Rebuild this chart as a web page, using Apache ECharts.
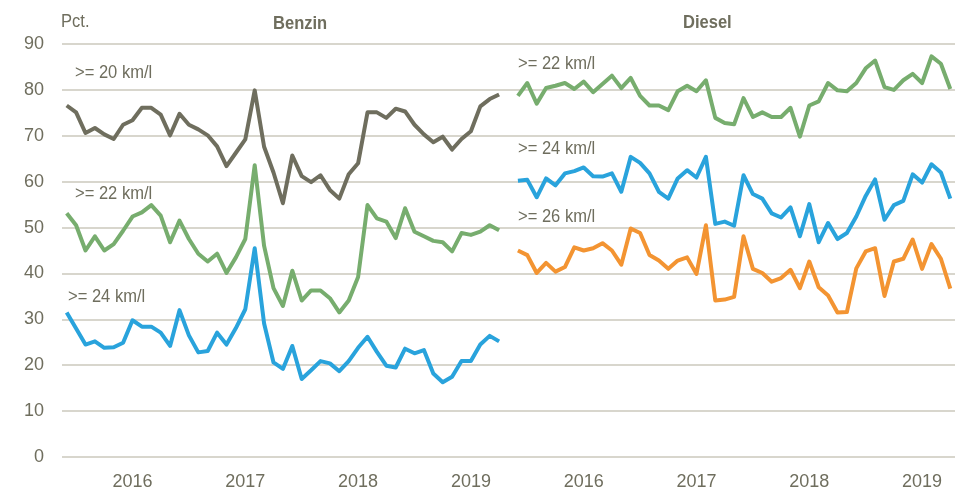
<!DOCTYPE html>
<html>
<head>
<meta charset="utf-8">
<script src="https://cdn.jsdelivr.net/npm/echarts@6/dist/echarts.min.js"></script>
<style>
  html, body { margin: 0; padding: 0; background: #fff; }
  #main { width: 955px; height: 491px; }
</style>
</head>
<body>
<div id="main"></div>
<script>
// månedlige tal, jun 2015 - apr 2019
var months = []
for (var y = 2015; y <= 2019; y++) {
  for (var m = 1; m <= 12; m++) {
    if ((y === 2015 && m < 6) || (y === 2019 && m > 4)) continue
    months.push(y + '-' + (m < 10 ? '0' + m : m))
  }
}

var yTicks = [0, 10, 20, 30, 40, 50, 60, 70, 80, 90]

// Benzin
var benzin20 = [76.6, 75.1, 70.6, 71.7, 70.3, 69.3, 72.4, 73.4, 76.1, 76.1,
  74.6, 70.1, 74.8, 72.4, 71.4, 70.1, 67.7, 63.4, 66.3, 69.2,
  79.9, 67.6, 62.0, 55.3, 65.7, 61.2, 59.9, 61.4, 58.2, 56.3,
  61.6, 64.0, 75.1, 75.1, 73.9, 75.9, 75.3, 72.4, 70.3, 68.6,
  69.8, 67.0, 69.3, 71.0, 76.4, 78.0, 79.0]
var benzin22 = [53.1, 50.5, 45.0, 48.1, 45.0, 46.4, 49.3, 52.4, 53.3, 54.9,
  52.6, 46.8, 51.5, 47.5, 44.3, 42.6, 44.3, 40.1, 43.5, 47.5,
  63.6, 46.0, 36.8, 32.9, 40.6, 34.1, 36.3, 36.3, 34.6, 31.5,
  34.1, 39.2, 54.9, 52.0, 51.3, 47.7, 54.2, 49.1, 48.1, 47.1,
  46.8, 44.8, 48.8, 48.4, 49.1, 50.5, 49.4]
var benzin24 = [31.5, 28.0, 24.5, 25.2, 23.8, 23.9, 24.9, 29.8, 28.4, 28.4,
  27.1, 24.2, 32.0, 26.5, 22.8, 23.1, 27.1, 24.5, 28.1, 32.2,
  45.5, 29.1, 20.6, 19.2, 24.2, 17.0, 18.9, 20.9, 20.4, 18.7,
  20.9, 23.8, 26.2, 22.9, 19.9, 19.5, 23.6, 22.6, 23.3, 18.2,
  16.3, 17.5, 20.9, 20.9, 24.5, 26.4, 25.2]

// Diesel
var diesel22 = [78.7, 81.5, 77.0, 80.4, 80.9, 81.5, 80.2, 81.8, 79.5, 81.3,
  83.1, 80.4, 82.6, 78.7, 76.6, 76.6, 75.6, 79.7, 80.9, 79.7,
  82.1, 73.9, 72.8, 72.5, 78.2, 74.1, 75.1, 74.1, 74.1, 76.1,
  69.8, 76.6, 77.5, 81.5, 79.9, 79.7, 81.5, 84.7, 86.4, 80.6,
  80.0, 82.1, 83.5, 81.5, 87.3, 85.7, 80.2]
var diesel24 = [60.2, 60.4, 56.6, 60.7, 59.2, 61.8, 62.3, 63.1, 61.2, 61.1,
  61.8, 57.8, 65.4, 64.1, 61.8, 57.8, 56.3, 60.7, 62.5, 60.9,
  65.4, 50.8, 51.3, 50.4, 61.4, 57.3, 56.3, 53.1, 52.2, 54.4,
  48.1, 55.1, 46.8, 51.0, 47.5, 48.8, 52.4, 56.9, 60.5, 51.7,
  54.9, 55.8, 61.6, 59.8, 63.8, 62.0, 56.3]
var diesel26 = [45.0, 44.0, 40.1, 42.3, 40.4, 41.4, 45.7, 45.0, 45.5, 46.6,
  45.0, 41.9, 49.8, 48.8, 44.0, 42.8, 41.0, 42.8, 43.5, 39.9,
  50.5, 34.1, 34.3, 34.9, 48.1, 41.0, 40.1, 38.2, 39.0, 40.8,
  36.8, 42.6, 37.0, 35.2, 31.5, 31.6, 41.1, 44.8, 45.5, 35.1,
  42.6, 43.2, 47.4, 41.0, 46.4, 43.2, 36.7]

// begge paneler deler én kategoriakse med et tomt felt imellem
var cats = months.concat(['']).concat(months)
var pad = months.map(function () { return null })
function left (arr) { return arr.concat([null]).concat(pad) }
function right (arr) { return pad.concat([null]).concat(arr) }

var txtColor = '#6f6e5e'
var font = "'Liberation Sans', Arial, sans-serif"

function mkLine (name, data, color) {
  return {
    name: name,
    type: 'line',
    data: data,
    showSymbol: false,
    symbol: 'none',
    connectNulls: false,
    lineStyle: { color: color, width: 4, join: 'round' },
    itemStyle: { color: color },
    silent: true,
    animation: false
  }
}

// smal skrift: ingen narrow-font installeret, så teksten presses lidt sammen
function lbl (text, x, y, bold) {
  return {
    type: 'text', x: x, y: y, scaleX: 0.87,
    style: { text: text, fill: txtColor, font: (bold ? 'bold 19px ' : '19px ') + font }
  }
}

var myChart = echarts.init(document.getElementById('main'))
myChart.setOption({
  animation: false,
  grid: { left: 62, top: 44, width: 895, height: 415 },
  xAxis: {
    type: 'category',
    data: cats,
    boundaryGap: true,
    axisLine: { show: false },
    axisTick: { show: false },
    axisLabel: {
      interval: function (i, v) { return v.slice(5) === '01' },
      formatter: function (v) { return v.slice(0, 4) },
      color: txtColor,
      fontFamily: font,
      fontSize: 18,
      margin: 16
    },
    splitLine: { show: false }
  },
  yAxis: {
    type: 'value',
    min: yTicks[0],
    max: yTicks[yTicks.length - 1],
    interval: 10,
    axisLine: { show: false },
    axisTick: { show: false },
    axisLabel: { color: txtColor, fontFamily: font, fontSize: 18, margin: 18 },
    splitLine: { lineStyle: { color: '#cbc8bd', width: 1.5 } }
  },
  graphic: [
    lbl('Pct.', 61, 12),
    lbl('Benzin', 273, 14, true),
    lbl('Diesel', 683, 13, true),
    lbl('>= 20 km/l', 75, 63),
    lbl('>= 22 km/l', 75, 184),
    lbl('>= 24 km/l', 68, 287),
    lbl('>= 22 km/l', 518, 54),
    lbl('>= 24 km/l', 518, 139),
    lbl('>= 26 km/l', 518, 207)
  ],
  series: [
    mkLine('Benzin >= 20', left(benzin20), '#6f6e5e'),
    mkLine('Benzin >= 22', left(benzin22), '#77ad6e'),
    mkLine('Benzin >= 24', left(benzin24), '#29a3dc'),
    mkLine('Diesel >= 22', right(diesel22), '#77ad6e'),
    mkLine('Diesel >= 24', right(diesel24), '#29a3dc'),
    mkLine('Diesel >= 26', right(diesel26), '#f39432')
  ]
})
</script>
</body>
</html>
